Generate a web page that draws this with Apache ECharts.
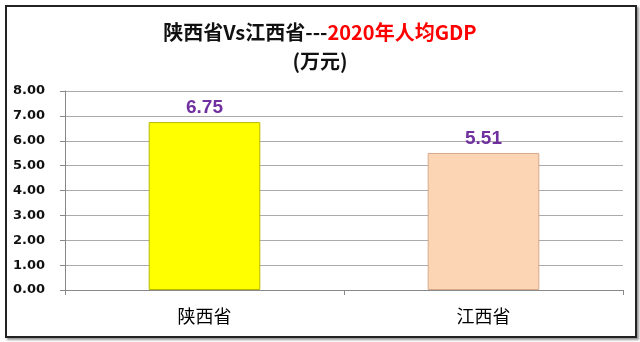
<!DOCTYPE html>
<html><head><meta charset="utf-8">
<script src="https://cdn.jsdelivr.net/npm/echarts@6/dist/echarts.min.js"></script>
<style>html,body{margin:0;padding:0;background:#fff}
#frame{position:absolute;left:5px;top:5px;width:628px;height:329px;border:2px solid #222;box-shadow:2px 2px 2px #999;}
#c{position:absolute;left:0;top:0;width:640px;height:342px}</style>
</head><body><div id="frame"></div><div id="c"></div>
<script>
const categories = ['陕西省', '江西省'];
const values = [6.75, 5.51];
const barColors = ['#FFFF00', '#FCD5B4'];
const borderColors = ['#B8B800', '#D9A98A'];
const chart = echarts.init(document.getElementById('c'));
chart.setOption({
  animation: false,
  title: {
    text: '{a|陕西省Vs江西省---}{b|2020年人均GDP}\n{a|(万元)}',
    left: 'center', top: 13,
    textStyle: {
      rich: {
        a: {fontSize: 20, fontWeight: 'bold', color: '#111', fontFamily: 'Noto Sans CJK SC', lineHeight: 29},
        b: {fontSize: 20, fontWeight: 'bold', color: '#FF0000', fontFamily: 'Noto Sans CJK SC', lineHeight: 29}
      }
    }
  },
  grid: {left: 65, right: 17, top: 91, bottom: 52},
  xAxis: {
    type: 'category', data: categories,
    axisLine: {lineStyle: {color: '#888'}},
    axisTick: {show: true, alignWithLabel: false, length: 5, lineStyle: {color: '#888'}},
    axisLabel: {color: '#000', fontSize: 18, fontFamily: 'Noto Sans CJK SC', margin: 17}
  },
  yAxis: {
    type: 'value', min: 0, max: 8, interval: 1,
    axisLine: {show: true, lineStyle: {color: '#888'}},
    axisTick: {show: true, length: 5, lineStyle: {color: '#888'}},
    splitLine: {lineStyle: {color: '#aaa'}},
    axisLabel: {formatter: v => v.toFixed(2), color: '#111', fontSize: 13, fontWeight: 'bold', fontFamily: 'DejaVu Sans', margin: 20}
  },
  series: [{
    type: 'bar', barWidth: '40%',
    data: values.map((v, i) => ({value: v, itemStyle: {color: barColors[i], borderColor: borderColors[i], borderWidth: 1}})),
    label: {show: true, position: 'top', distance: 5, formatter: p => p.value.toFixed(2), color: '#7030A0', fontSize: 19, fontWeight: 'bold', fontFamily: 'Liberation Sans'}
  }]
});
</script></body></html>
